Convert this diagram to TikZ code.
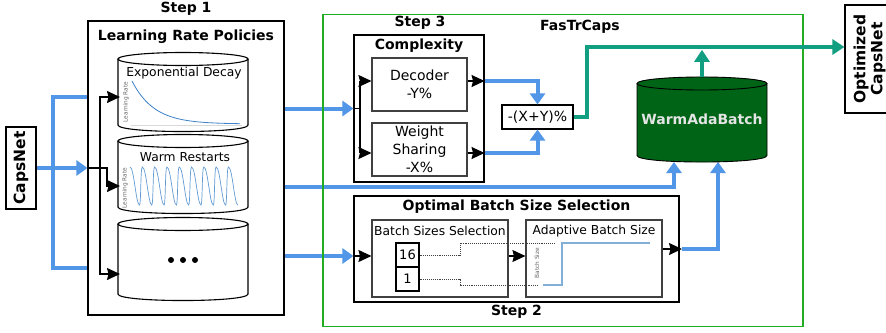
\documentclass[tikz,border=0pt]{standalone}
\usepackage{fontspec}
\setmainfont{DejaVu Sans}
\usetikzlibrary{arrows.meta}
\definecolor{bl}{RGB}{82,150,232}
\definecolor{tl}{RGB}{18,158,128}
\definecolor{gbox}{RGB}{34,172,34}
\definecolor{dg}{RGB}{0,100,22}
\definecolor{plotblue}{RGB}{60,130,200}
\definecolor{stepblue}{RGB}{130,175,215}
\tikzset{
  bx/.style={draw=black, line width=1.1pt, inner sep=0pt},
  ibx/.style={draw=black!75, line width=1.1pt, inner sep=0pt},
  bluel/.style={draw=bl, line width=4pt},
  bluea/.style={bluel, -{Triangle[length=11pt,width=15pt]}},
  teall/.style={draw=tl, line width=4pt},
  teala/.style={teall, -{Triangle[length=12pt,width=15pt]}},
  blk/.style={draw=black, line width=1.4pt},
  blktip/.tip={Stealth[length=13pt,width=12pt,inset=1.5pt]},
  blka/.style={blk, -blktip},
  ttl/.style={font=\fontsize{14}{16}\selectfont\bfseries, inner sep=0pt},
  bigttl/.style={font=\fontsize{15.5}{17}\selectfont\bfseries, inner sep=0pt, align=center},
  txt/.style={font=\fontsize{14}{18}\selectfont, align=center, inner sep=0pt},
  ctxt/.style={font=\fontsize{12.3}{14}\selectfont, inner sep=0pt},
  tinylab/.style={font=\fontsize{5.8}{6}\selectfont, text=black!60, inner sep=0pt, rotate=90},
}
\begin{document}
\begin{tikzpicture}[x=1pt,y=-1pt]
\fill[white] (0,0) rectangle (886,332);
\useasboundingbox (0,0) rectangle (886,332);

% ---------------- helper coordinates ----------------
\coordinate (lv1) at (0,97);
\coordinate (lv2) at (0,268);
\coordinate (hb) at (0,187);
\coordinate (hc) at (0,256);
\coordinate (dy) at (0,81);
\coordinate (wy) at (0,153);
\coordinate (bj) at (53,168);
\coordinate (k1) at (100,97);
\coordinate (k3) at (100,274);
\coordinate (jog) at (107,168);
\coordinate (c1in) at (120,97);
\coordinate (c2in) at (120,186);
\coordinate (c3in) at (120,274);
\coordinate (cj) at (360,108.5);
\coordinate (wabL) at (674,162);
\coordinate (wabR) at (718,162);
\coordinate (obout) at (682,249);
\coordinate (tj) at (587,47);

% ---------------- CapsNet ----------------
\node[bx, minimum width=30pt, minimum height=82pt] (caps) at (21,168) {};
\node[bigttl, rotate=90] (capst) at (caps) {CapsNet};

% ---------------- Step 1 ----------------
\node[ttl] (s1lab) at (186,9) {Step 1};
\node[bx, minimum width=196pt, minimum height=294pt] (s1) at (186,168) {};
\node[ttl] (lrp) at (186,37) {Learning Rate Policies};

% cylinders
\foreach \t/\b in {59/125, 141/207, 224/294}{
  \draw[bx] (118,\t) -- (118,\b) .. controls (118,{\b+8.7}) and (248,{\b+8.7}) .. (248,\b) -- (248,\t);
  \draw[bx] (183,\t) ellipse [x radius=65pt, y radius=6.5pt];
}
\node[ctxt] (ed) at (184,73) {Exponential Decay};
\node[ctxt] (wr) at (185,157) {Warm Restarts};
\fill (171,260) circle (3pt) (183,260) circle (3pt) (195,260) circle (3pt);

% exponential decay plot
\draw[black!15, line width=0.6pt] (131,125.5) -- (242,125.5);
\draw[plotblue, line width=0.8pt] plot[domain=132:240, samples=60] (\x, {124 - 43*exp(-(\x-132)/22)});
\node[tinylab] (lr1) at (126,102) {Learning Rate};

% warm restarts plot
\draw[plotblue!80, line width=0.7pt] (130,167)
  \foreach \i in {0,...,7} { .. controls ({130+\i*12.3+4},167) and ({130+\i*12.3+6},205) .. ({130+\i*12.3+9.5},205) .. controls ({130+\i*12.3+11},205) and ({130+\i*12.3+10.5},167) .. ({130+\i*12.3+12.3},167) }
  .. controls (232.4,167) and (234.4,205) .. (237.9,205);
\node[tinylab] (lr2) at (125,188) {Learning Rate};

% black connectors step 1
\draw[blk, blktip-blktip] (c1in) -- (k1) -- (k3) -- (c3in);
\draw[blka] (s1.west) -- (jog) |- (c2in);

% ---------------- Step 3 : Complexity ----------------
\node[ttl] (s3lab) at (420,23) {Step 3};
\node[bx, minimum width=130pt, minimum height=147pt] (cmp) at (419,108.5) {};
\node[ttl] (cmpt) at (419,46) {Complexity};
\node[ibx, txt, minimum width=95pt, minimum height=53pt] (dec) at (419.5,84.5) {Decoder\\-Y\%};
\node[ibx, txt, minimum width=95pt, minimum height=53pt] (ws) at (419.5,149.5) {Weight\\Sharing\\-X\%};
\node[bx, txt, minimum width=71pt, minimum height=24pt] (xy) at (537.5,117) {-(X+Y)\%};

\draw[blk] (cmp.west) -- (cj);
\draw[blk] (cj |- dy) -- (cj |- wy);
\draw[blka] (cj |- dy) -- (dec.west |- dy);
\draw[blka] (cj |- wy) -- (ws.west |- wy);
\draw[blka] (dec.east |- dy) -- (cmp.east |- dy);
\draw[blka] (ws.east |- wy) -- (cmp.east |- wy);

% ---------------- Step 2 : Optimal batch size ----------------
\node[bx, minimum width=325pt, minimum height=106pt] (ob) at (516.5,249) {};
\node[ttl] (obt) at (516.5,207) {Optimal Batch Size Selection};
\node[ttl] (s2lab) at (516.5,312) {Step 2};
\node[ibx, minimum width=136pt, minimum height=77pt] (bs) at (440,258.5) {};
\node[ctxt] (bst) at (440,231) {Batch Sizes Selection};
\node[ibx, minimum width=136pt, minimum height=77pt] (ab) at (594,258.5) {};
\node[ctxt] (abt) at (594,231) {Adaptive Batch Size};
\node[bx, minimum width=23pt, minimum height=24pt, font=\fontsize{13}{15}\selectfont] (b16) at (407.5,255) {16};
\node[bx, minimum width=23pt, minimum height=24pt, font=\fontsize{13}{15}\selectfont] (b1) at (407.5,279) {1};
\draw[black!75, densely dotted, line width=0.9pt] (b16.east) -- (460,255) -- (460,243) -- (555,243);
\draw[black!75, densely dotted, line width=0.9pt] (b1.east) -- (460,279) -- (460,285) -- (538,285);
\draw[stepblue, line width=1.2pt] (543,285) -- (562,285) -- (562,243) -- (650,243);
\node[tinylab] (bsl) at (537,263) {Batch Size};

\draw[blka] (ob.west |- hc) -- (bs.west |- hc);
\draw[blka] (bs.east |- hc) -- (ab.west |- hc);
\draw[blka] (ab.east |- obout) -- (obout);

% ---------------- blue connectors ----------------
\draw[bluea] (caps.east) -- (s1.west);
\draw[bluel] (s1.west |- lv1) -| (bj |- lv2) -- (s1.west |- lv2);
\draw[bluea] (s1.east |- cmp.west) -- (cmp.west);
\draw[bluea] (s1.east |- hc) -- (ob.west |- hc);
\draw[bluea] (s1.east |- hb) -| (wabL);
\draw[bluea] (obout) -| (wabR);
\draw[bluea] (cmp.east |- dy) -| (xy.north);
\draw[bluea] (cmp.east |- wy) -| (xy.south);

% ---------------- FasTrCaps frame ----------------
\node[draw=gbox, line width=1.8pt, minimum width=480pt, minimum height=312pt] (fas) at (563,170.5) {};
\node[ttl] (fast) at (580,27) {FasTrCaps};

% ---------------- WarmAdaBatch ----------------
\fill[dg] (637,83.5) -- (637,155.5) .. controls (637,164.2) and (767,164.2) .. (767,155.5) -- (767,83.5) .. controls (767,74.8) and (637,74.8) .. (637,83.5) -- cycle;
\draw[line width=0.9pt] (637,83.5) -- (637,155.5) .. controls (637,164.2) and (767,164.2) .. (767,155.5) -- (767,83.5);
\draw[line width=0.9pt] (702,83.5) ellipse [x radius=65pt, y radius=6.5pt];
\node[font=\fontsize{14}{16}\selectfont\bfseries, text=black!10, minimum width=130pt, minimum height=85pt, inner sep=0pt] (wab) at (702,119.5) {WarmAdaBatch};

% ---------------- Optimized CapsNet ----------------
\node[bx, minimum width=47pt, minimum height=108pt] (opt) at (868.5,59) {};
\node[bigttl, rotate=90] (optt) at (869.5,59) {Optimized\\CapsNet};

% ---------------- teal connectors ----------------
\draw[teala] (xy.east) -| (tj) -- (tj -| opt.west);
\draw[teala] (wab.north) -- ++(0,-27);
\end{tikzpicture}
\end{document}
